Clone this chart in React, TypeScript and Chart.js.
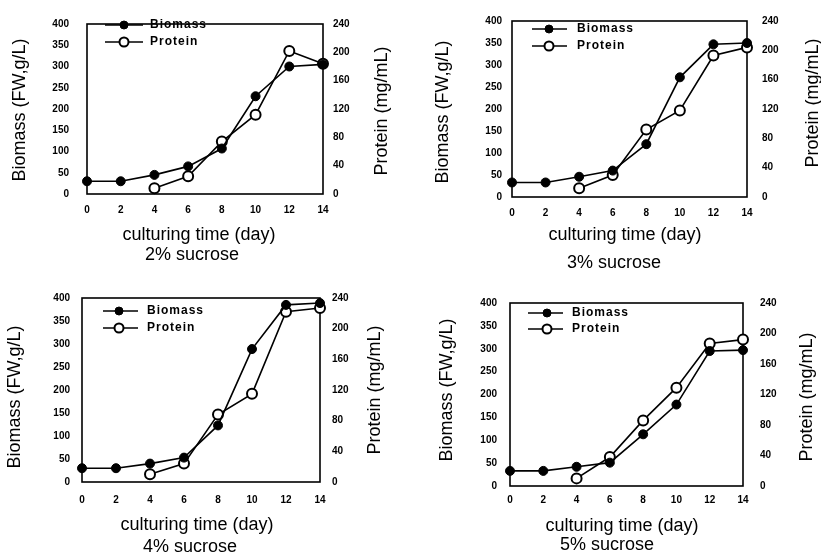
import React, { useEffect, useRef } from "react";
import { Chart, registerables } from "chart.js";

Chart.register(...registerables);

// ---------- data ----------
const days = [0, 2, 4, 6, 8, 10, 12, 14];
const biomassTicks = [0, 50, 100, 150, 200, 250, 300, 350, 400];
const proteinTicks = [0, 40, 80, 120, 160, 200, 240];

const biomass2 = [30, 30, 45, 65, 107, 230, 300, 305];
const protein2 = [null, null, 8, 25, 74, 112, 202, 184];
const biomass3 = [33, 33, 46, 60, 120, 272, 347, 350];
const protein3 = [null, null, 12, 30, 92, 118, 193, 204];
const biomass4 = [30, 30, 40, 53, 123, 289, 385, 389];
const protein4 = [null, null, 10, 24, 88, 115, 222, 227];
const biomass5 = [33, 33, 42, 51, 113, 178, 295, 297];
const protein5 = [null, null, 10, 38, 86, 129, 187, 192];

const sucroseLabels = ["2% sucrose", "3% sucrose", "4% sucrose", "5% sucrose"];
const xTitle = "culturing time (day)";
const leftTitle = "Biomass (FW,g/L)";
const rightTitle = "Protein (mg/mL)";
const seriesNames = ["Biomass", "Protein"];

// ---------- layout (positions / sizes only) ----------
type Panel = {
  ox: number; oy: number; W: number; H: number;
  L: number; R: number; T: number; B: number;
  leftTickRight: number; rightTickLeft: number; xTickY: number;
  ltX: number; ltY: number; rtX: number; rtY: number;
  xtX: number; xtY: number; subX: number; subY: number;
  legX1: number; legX2: number; legM: number; legT: number; legY: number[];
};

const panels: Panel[] = [
  { ox: 0, oy: 0, W: 410, H: 280, L: 87, R: 323, T: 10, B: 194,
    leftTickRight: 69, rightTickLeft: 333, xTickY: 210,
    ltX: 20, ltY: 110, rtX: 382, rtY: 111, xtX: 199, xtY: 235, subX: 192, subY: 255,
    legX1: 105, legX2: 143, legM: 124, legT: 150, legY: [25, 42] },
  { ox: 410, oy: 0, W: 411, H: 280, L: 102, R: 337, T: 13, B: 197,
    leftTickRight: 92, rightTickLeft: 352, xTickY: 213,
    ltX: 33, ltY: 112, rtX: 403, rtY: 103, xtX: 215, xtY: 235, subX: 204, subY: 263,
    legX1: 122, legX2: 157, legM: 139, legT: 167, legY: [29, 46] },
  { ox: 0, oy: 280, W: 410, H: 280, L: 82, R: 320, T: 14, B: 202,
    leftTickRight: 70, rightTickLeft: 332, xTickY: 220,
    ltX: 15, ltY: 117, rtX: 375, rtY: 110, xtX: 197, xtY: 245, subX: 190, subY: 267,
    legX1: 103, legX2: 138, legM: 119, legT: 147, legY: [31, 48] },
  { ox: 410, oy: 280, W: 411, H: 280, L: 100, R: 333, T: 15, B: 206,
    leftTickRight: 87, rightTickLeft: 350, xTickY: 220,
    ltX: 37, ltY: 110, rtX: 397, rtY: 117, xtX: 212, xtY: 246, subX: 197, subY: 265,
    legX1: 118, legX2: 153, legM: 137, legT: 162, legY: [33, 49] },
];

const seriesSets: [number[], (number | null)[]][] = [
  [biomass2, protein2],
  [biomass3, protein3],
  [biomass4, protein4],
  [biomass5, protein5],
];

const FAMILY = "'Liberation Sans', Arial, Helvetica, sans-serif";
const tickFont = { family: FAMILY, size: 10, weight: "bold" as const };

function setTicks(values: number[]) {
  return (scale: any) => {
    scale.ticks = values.map((v) => ({ value: v }));
  };
}

function decorPlugin(p: Panel, sub: string) {
  return {
    id: "decor",
    beforeDatasetsDraw(chart: any) {
      const { ctx, chartArea: a } = chart;
      ctx.save();
      ctx.strokeStyle = "#000";
      ctx.lineWidth = 1.6;
      ctx.strokeRect(a.left, a.top, a.right - a.left, a.bottom - a.top);
      ctx.restore();
    },
    afterDraw(chart: any) {
      const { ctx } = chart;
      ctx.save();
      ctx.fillStyle = "#000";
      ctx.textAlign = "center";
      ctx.textBaseline = "middle";
      ctx.font = `18px ${FAMILY}`;
      ctx.fillText(xTitle, p.xtX, p.xtY);
      ctx.fillText(sub, p.subX, p.subY);
      // left title
      ctx.save();
      ctx.translate(p.ltX, p.ltY);
      ctx.rotate(-Math.PI / 2);
      ctx.fillText(leftTitle, 0, 0);
      ctx.restore();
      // right title
      ctx.save();
      ctx.translate(p.rtX, p.rtY);
      ctx.rotate(-Math.PI / 2);
      ctx.fillText(rightTitle, 0, 0);
      ctx.restore();
      // legend inside plot
      ctx.strokeStyle = "#000";
      chart.data.datasets.forEach((ds: any, k: number) => {
        const y = p.legY[k];
        ctx.lineWidth = 1.6;
        ctx.beginPath();
        ctx.moveTo(p.legX1, y);
        ctx.lineTo(p.legX2, y);
        ctx.stroke();
        ctx.beginPath();
        ctx.arc(p.legM, y, k === 0 ? 4 : 4.5, 0, Math.PI * 2);
        ctx.fillStyle = k === 0 ? "#000" : "#fff";
        ctx.fill();
        ctx.lineWidth = k === 0 ? 1 : 2;
        ctx.stroke();
        ctx.fillStyle = "#000";
        ctx.textAlign = "left";
        ctx.font = `bold 12px ${FAMILY}`;
        try { (ctx as any).letterSpacing = "1px"; } catch (e) {}
        ctx.fillText(ds.label, p.legT, y);
        try { (ctx as any).letterSpacing = "0px"; } catch (e) {}
      });
      ctx.restore();
    },
  };
}

function makeConfig(p: Panel, biomass: number[], protein: (number | null)[], sub: string): any {
  const bioPts = days.map((d, i) => ({ x: d, y: biomass[i] }));
  const proPts = days
    .map((d, i) => ({ x: d, y: protein[i] }))
    .filter((pt) => pt.y !== null);
  return {
    type: "line",
    data: {
      datasets: [
        {
          label: seriesNames[0],
          data: bioPts,
          yAxisID: "y",
          borderColor: "#000",
          borderWidth: 1.6,
          pointRadius: 4.5,
          pointBackgroundColor: "#000",
          pointBorderColor: "#000",
          pointBorderWidth: 1,
          tension: 0,
          clip: false,
        },
        {
          label: seriesNames[1],
          data: proPts,
          yAxisID: "y1",
          borderColor: "#000",
          borderWidth: 1.6,
          pointRadius: 5,
          pointBackgroundColor: "#fff",
          pointBorderColor: "#000",
          pointBorderWidth: 2,
          tension: 0,
          clip: false,
        },
      ],
    },
    options: {
      responsive: false,
      animation: false,
      devicePixelRatio: 1,
      layout: { padding: { top: p.T, left: 0, right: 0, bottom: 0 } },
      plugins: {
        legend: { display: false },
        tooltip: { enabled: false },
        title: { display: false },
      },
      scales: {
        x: {
          type: "linear",
          min: 0,
          max: 14,
          afterBuildTicks: setTicks(days),
          afterFit: (s: any) => { s.height = p.H - p.B; },
          grid: { display: false, drawTicks: false },
          border: { display: false },
          ticks: { padding: p.xTickY - p.B - 6, font: tickFont, color: "#000", maxRotation: 0, autoSkip: false },
        },
        y: {
          type: "linear",
          position: "left",
          min: 0,
          max: 400,
          afterBuildTicks: setTicks(biomassTicks),
          afterFit: (s: any) => { s.width = p.L; },
          grid: { display: false, drawTicks: false },
          border: { display: false },
          ticks: { padding: p.L - p.leftTickRight, font: tickFont, color: "#000", autoSkip: false },
        },
        y1: {
          type: "linear",
          position: "right",
          min: 0,
          max: 240,
          afterBuildTicks: setTicks(proteinTicks),
          afterFit: (s: any) => { s.width = p.W - p.R; },
          grid: { display: false, drawTicks: false },
          border: { display: false },
          ticks: { padding: p.rightTickLeft - p.R, font: tickFont, color: "#000", autoSkip: false },
        },
      },
    },
    plugins: [decorPlugin(p, sub)],
  };
}

function PanelChart({ idx }: { idx: number }) {
  const ref = useRef<HTMLCanvasElement | null>(null);
  const p = panels[idx];
  useEffect(() => {
    if (!ref.current) return;
    const [b, pr] = seriesSets[idx];
    const chart = new Chart(ref.current, makeConfig(p, b, pr, sucroseLabels[idx]));
    return () => chart.destroy();
  }, [idx]);
  return (
    <canvas
      ref={ref}
      width={p.W}
      height={p.H}
      style={{ position: "absolute", left: p.ox, top: p.oy, width: p.W, height: p.H }}
    />
  );
}

export default function App() {
  return (
    <div style={{ position: "absolute", left: 0, top: 0, width: 821, height: 560, background: "#fff", overflow: "hidden" }}>
      {panels.map((_, i) => (
        <PanelChart key={i} idx={i} />
      ))}
    </div>
  );
}
